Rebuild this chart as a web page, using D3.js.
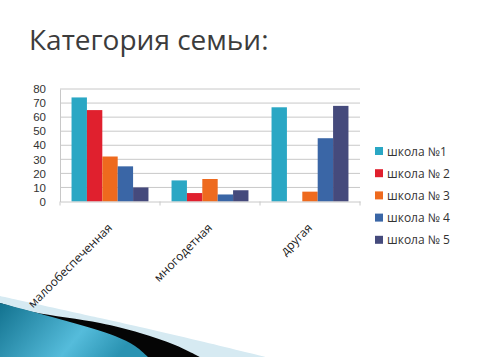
<!DOCTYPE html>
<html><head><meta charset="utf-8">
<script src="https://cdn.jsdelivr.net/npm/d3@7"></script>
<style>body{margin:0;background:#fff}svg{display:block}</style>
</head><body>
<script>
const categories = ["малообеспеченная", "многодетная", "другая"];
const seriesNames = ["школа №1", "школа № 2", "школа № 3", "школа № 4", "школа № 5"];
const school1 = [74, 15, 67];
const school2 = [65, 6, 0];
const school3 = [32, 16, 7];
const school4 = [25, 5, 45];
const school5 = [10, 8, 68];
const yTicks = [0, 10, 20, 30, 40, 50, 60, 70, 80];
const colors = ["#2aa7c4", "#e0202e", "#ee6a1e", "#3a66a6", "#454a7c"];
const series = [school1, school2, school3, school4, school5];

const W = 480, H = 357;
const svg = d3.select("body").append("svg").attr("width", W).attr("height", H);

// background decoration (swooshes at bottom-left)
const defs = svg.append("defs");
const g1 = defs.append("linearGradient").attr("id","tg").attr("x1","0").attr("y1","0").attr("x2","1").attr("y2","0.3");
g1.append("stop").attr("offset","0").attr("stop-color","#12728f");
g1.append("stop").attr("offset","0.65").attr("stop-color","#55bcdb");
g1.append("stop").attr("offset","1").attr("stop-color","#2a93b2");
const curve = d3.line().curve(d3.curveCatmullRom);
function swoosh(top, fill) {
  const p = curve(top) + `L0,357Z`;
  svg.append("path").attr("d", p).attr("fill", fill);
}
swoosh([[0,296],[100,318],[140,327],[200,341],[266,357]], "#d6eaf2");
swoosh([[0,303],[33,312],[100,323],[140,333],[175,345],[200,357]], "#050505");
swoosh([[0,303],[70,322],[115,336],[135,346],[148,357]], "url(#tg)");

svg.append("text").attr("x", 29).attr("y", 50).text("Категория семьи:")
  .attr("font-family","Open Sans").attr("font-size", 28).attr("fill","#3c3c3c");

const x0 = d3.scaleBand().domain(categories).range([60, 360]);
const x1 = d3.scaleBand().domain(d3.range(5)).range([0, x0.bandwidth()]).paddingOuter(0.75).paddingInner(0);
const y = d3.scaleLinear().domain([0, 80]).range([201.5, 89]);

// gridlines
svg.append("g").selectAll("line").data(yTicks.slice(1)).join("line")
  .attr("x1", 60).attr("x2", 360).attr("y1", d => y(d)).attr("y2", d => y(d))
  .attr("stroke", "#c8c8c8").attr("stroke-width", 1);

// bars
categories.forEach((c, ci) => {
  series.forEach((s, si) => {
    svg.append("rect").attr("x", x0(c) + x1(si)).attr("width", x1.bandwidth())
      .attr("y", y(s[ci])).attr("height", y(0) - y(s[ci])).attr("fill", colors[si]);
  });
});

// axes
const ya = svg.append("g").attr("transform","translate(60,0)")
  .call(d3.axisLeft(y).tickValues(yTicks).tickSize(0).tickPadding(14));
ya.select(".domain").attr("stroke","#c8c8c8");
ya.selectAll("text").attr("font-family","Liberation Sans").attr("font-size", 11.5).attr("fill","#333");

const xa = svg.append("g").attr("transform",`translate(0,${y(0)})`)
  .call(d3.axisBottom(x0).tickSize(0).tickFormat(""));
xa.select(".domain").attr("stroke","#c8c8c8");
xa.selectAll(".tick").remove();
[60,160,260,360].forEach(v => svg.append("line").attr("x1",v).attr("x2",v).attr("y1",y(0)).attr("y2",y(0)+4).attr("stroke","#c8c8c8"));

svg.append("g").selectAll("text").data(categories).join("text")
  .attr("transform", d => `translate(${x0(d) + x0.bandwidth()/2 + 3},${y(0) + 27}) rotate(-45)`)
  .attr("text-anchor","end").attr("font-family","Open Sans").attr("font-size", 12).attr("fill","#222")
  .text(d => d);

// legend
const lg = svg.append("g").selectAll("g").data(seriesNames).join("g")
  .attr("transform", (d,i) => `translate(375,${151 + i*22.2})`);
lg.append("rect").attr("x",0).attr("y",-4).attr("width",8).attr("height",8).attr("fill",(d,i)=>colors[i]);
lg.append("text").attr("x",12).attr("y",4.5).text(d=>d)
  .attr("font-family","Open Sans").attr("font-size", 12).attr("fill","#333");
</script>
</body></html>
